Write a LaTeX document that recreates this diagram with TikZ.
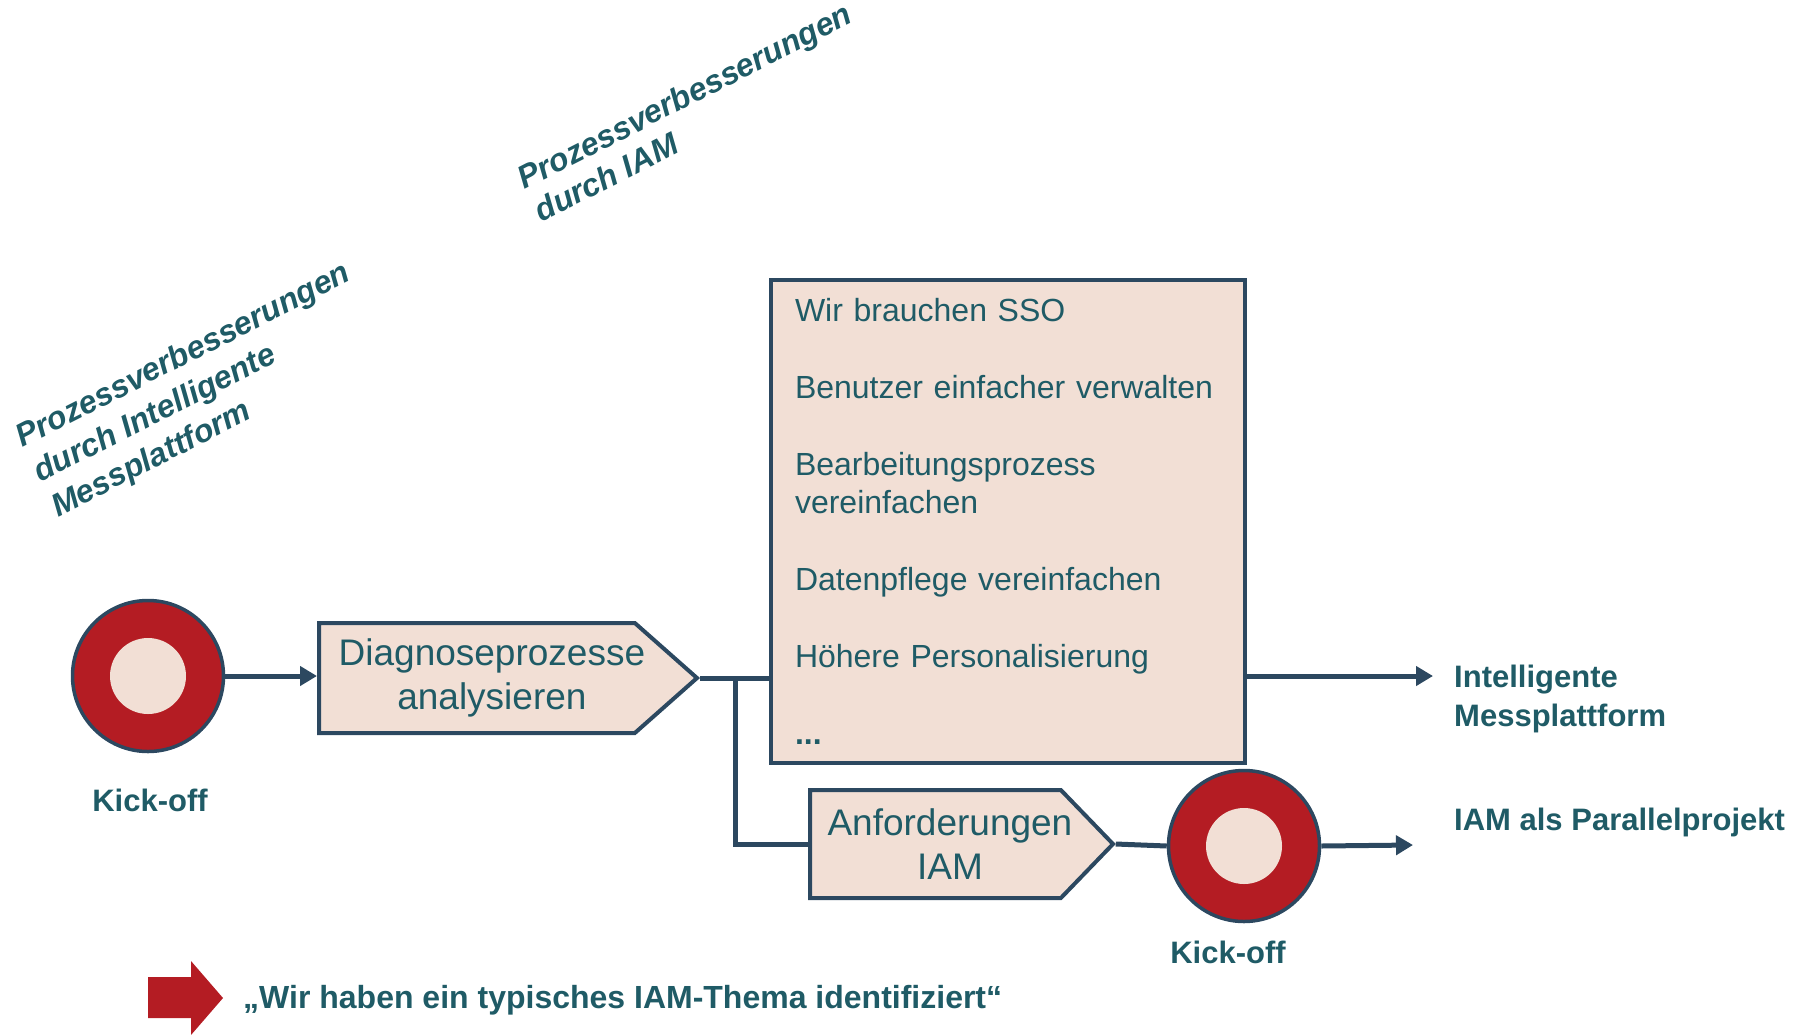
\documentclass[tikz,border=0pt]{standalone}
\usepackage{fontspec}
\setmainfont{Liberation Sans}
\usetikzlibrary{arrows.meta,shapes.symbols}
\definecolor{txt}{RGB}{31,91,102}
\definecolor{edgec}{RGB}{44,72,96}
\definecolor{fillp}{RGB}{242,223,213}
\definecolor{redk}{RGB}{180,28,35}
\newcommand{\shiftline}[3]{\makebox[#1][c]{\hspace{#2}#3}}
\begin{document}
\begin{tikzpicture}[x=1pt,y=-1pt,
  conn/.style={draw=edgec, line width=5pt},
  arr/.style={conn, -{Triangle[length=17pt,width=19pt]}},
  proc/.style={signal, signal to=east, draw=edgec, line width=4pt, fill=fillp, text=txt,
    font=\fontsize{37}{44}\selectfont, align=center, inner sep=0pt, anchor=west},
  kick/.style={circle, draw=edgec, line width=3.5pt, fill=redk, minimum size=151pt, inner sep=0pt},
  klabel/.style={text=txt, font=\bfseries\fontsize{31}{37}\selectfont, inner sep=0pt},
  olabel/.style={text=txt, font=\bfseries\fontsize{31}{39}\selectfont, inner sep=0pt, align=left},
  slantlbl/.style={text=txt, align=left, rotate=27, inner sep=0pt, anchor=north west},
  listbox/.style={draw=edgec, line width=4pt, fill=fillp, text=txt, font=\fontsize{32}{38}\selectfont,
    text width=426pt, inner xsep=24pt, inner ysep=0pt, minimum height=483pt, align=left},
]
\useasboundingbox (0,0) rectangle (1811,1034);

% rotated headings
\node[slantlbl, font=\bfseries\itshape\fontsize{32}{37}\selectfont] (s1) at (514,169)
  {Prozessverbesserungen\\durch IAM};
\node[slantlbl, font=\bfseries\itshape\fontsize{32}{39}\selectfont] (s2) at (12,427)
  {Prozessverbesserungen\\durch Intelligente\\Messplattform};

% kick-off 1
\node[kick] (k1) at (148,676) {};
\fill[fillp] (k1.center) circle[radius=38];
\node[klabel] (k1l) at (150,800) {Kick-off};

% process steps
\node[proc, minimum width=378pt, minimum height=110pt, signal pointer angle=83] (diag) at (317,678)
  {\shiftline{300pt}{30pt}{Diagnoseprozesse}\\\shiftline{300pt}{30pt}{analysieren}};
\node[proc, minimum width=303pt, minimum height=108pt, signal pointer angle=92] (anf) at (808,844)
  {\shiftline{240pt}{29pt}{Anforderungen}\\\shiftline{240pt}{29pt}{IAM}};

% list box
\node[listbox] (box) at (1008,521.5) {Wir brauchen SSO\\[39pt]
Benutzer einfacher verwalten\\[39pt]
Bearbeitungsprozess\\vereinfachen\\[39pt]
Datenpflege vereinfachen\\[39pt]
Höhere Personalisierung\\[39pt]
\textbf{...}};

% kick-off 2
\node[kick] (k2) at (1244,846) {};
\fill[fillp] (k2.center) circle[radius=38];
\node[klabel] (k2l) at (1228,952.5) {Kick-off};

% outputs
\node[olabel, anchor=north west] (out1) at (1454,665) {Intelligente\\Messplattform};
\node[olabel, anchor=base west] (out2) at (1454,830) {IAM als Parallelprojekt};
\coordinate (t1) at (1433,676);
\coordinate (t2) at (1413,845);
\coordinate (split) at (735,677);

% connectors
\draw[arr] (k1.east) -- (k1.east -| diag.west);
\draw[conn] (diag.east) -- (diag.east -| box.west);
\draw[conn] (split) |- (anf.west);
\draw[conn] (anf.east) -- (k2.west);
\draw[arr] (t1 -| box.east) -- (t1);
\draw[arr] (k2.east) -- (t2);

% bottom statement
\fill[redk] (148,977) -- (191,977) -- (191,961) -- (223,998) -- (191,1035) -- (191,1018) -- (148,1018) -- cycle;
\node[text=txt, font=\bfseries\fontsize{32}{38}\selectfont, anchor=base west, inner sep=0pt] (msg) at (243,1008)
  {„Wir haben ein typisches IAM-Thema identifiziert“};
\end{tikzpicture}
\end{document}
